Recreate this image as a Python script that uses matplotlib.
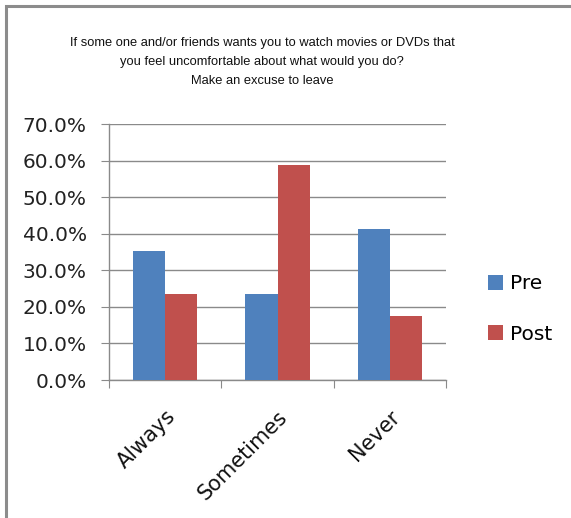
import matplotlib
matplotlib.use("Agg")
import matplotlib.pyplot as plt
from matplotlib.patches import Rectangle, Patch
from matplotlib.ticker import FuncFormatter, MultipleLocator
import numpy as np

# Survey responses (share of respondents)
categories = ["Always", "Sometimes", "Never"]
pre_values = [35.3, 23.5, 41.2]
post_values = [23.5, 58.8, 17.6]
series_names = ["Pre", "Post"]
title_lines = [
    "If some one and/or friends wants you to watch movies or DVDs that",
    "you feel uncomfortable about what would you do?",
    "Make an excuse to leave",
]

W, H = 571, 518
fig = plt.figure(figsize=(W / 100, H / 100), dpi=100)
fig.patch.set_facecolor("white")

# chart frame (left and top edges visible)
fig.add_artist(Rectangle((6 / W, -0.05), 1.2, 1 - 6 / H + 0.05,
                         transform=fig.transFigure, fill=False,
                         edgecolor="#8c8c8c", linewidth=2.2))

ax = fig.add_axes([109 / W, 1 - 380 / H, (446 - 109) / W, (380 - 124) / H])

blue = "#4F81BD"
red = "#C0504D"
grid_c = "#8a8a8a"

x = np.arange(len(categories))
bw = 0.285
ax.bar(x - bw / 2, pre_values, bw, color=blue, zorder=3, label=series_names[0])
ax.bar(x + bw / 2, post_values, bw, color=red, zorder=3, label=series_names[1])

ax.set_xlim(-0.5, len(categories) - 0.5)
ax.set_ylim(0, 70)
ax.yaxis.set_major_locator(MultipleLocator(10))
ax.yaxis.set_major_formatter(FuncFormatter(lambda v, p: f"{v:.1f}%"))
ax.yaxis.grid(True, color=grid_c, linewidth=1.0, zorder=0)

for s in ["top", "right"]:
    ax.spines[s].set_visible(False)
for s in ["left", "bottom"]:
    ax.spines[s].set_color(grid_c)
    ax.spines[s].set_linewidth(1.0)

ax.tick_params(axis="y", length=6, color=grid_c, labelsize=14.5,
               labelcolor="#222222", pad=10)
ax.set_yticks(np.arange(0, 71, 10))

# category boundary ticks on the x axis
ax.set_xticks(np.arange(-0.5, len(categories), 1.0))
ax.set_xticklabels([])
ax.tick_params(axis="x", length=6, color=grid_c)
ax.set_xticks(x, minor=True)
ax.set_xticklabels(categories, minor=True, rotation=45, ha="right",
                   rotation_mode="anchor", fontsize=15, color="#111111")
ax.tick_params(axis="x", which="minor", length=0, pad=19)

# title block
ys = [43, 62, 81]
sizes = [9.3, 9.3, 9.3]
for line, yy, fs in zip(title_lines, ys, sizes):
    fig.text(262 / W, 1 - yy / H, line, ha="center", va="center",
             fontsize=fs, family="Liberation Sans", color="#111111")

handles = [Patch(facecolor=blue), Patch(facecolor=red)]
leg = fig.legend(handles, series_names, loc="center left",
                 bbox_to_anchor=(470 / W, 1 - 309 / H), frameon=False,
                 fontsize=14.5, handlelength=0.75, handleheight=0.75,
                 handletextpad=0.35, labelspacing=1.55)

fig.savefig("out.png", dpi=100)
